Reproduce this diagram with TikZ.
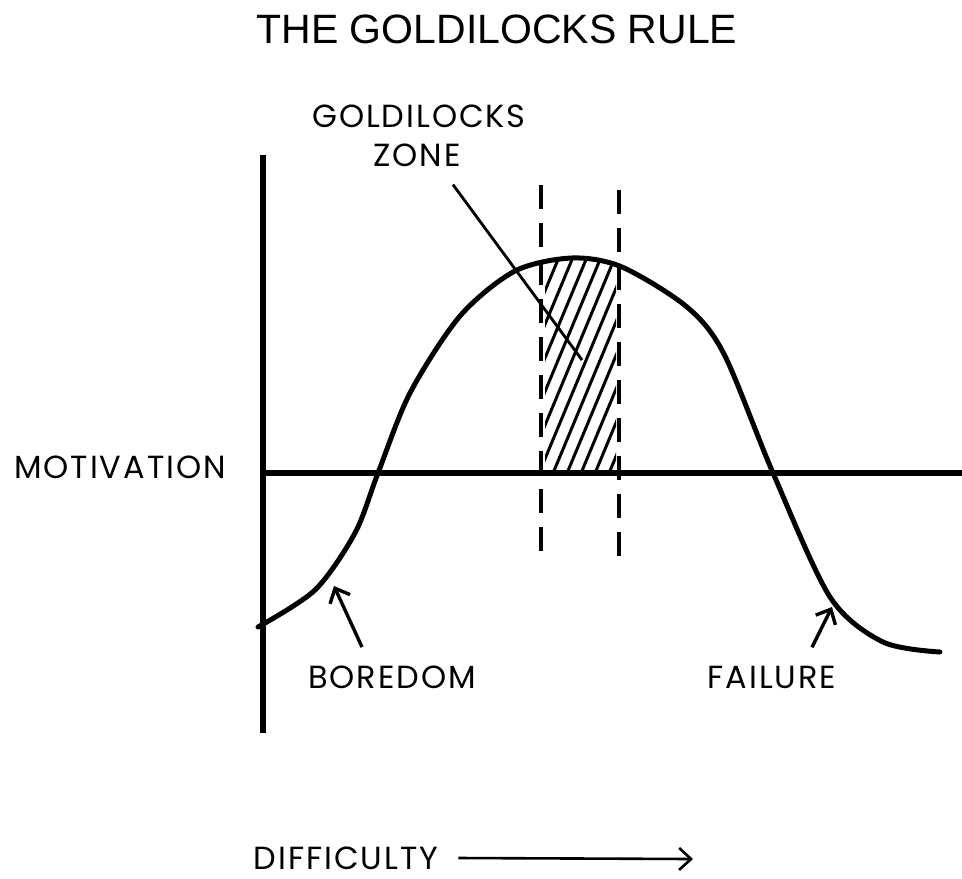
\documentclass[tikz,border=0pt]{standalone}
\usepackage{fontspec}
\setmainfont{Poppins}[LetterSpace=6]
\newfontfamily\headfont{Liberation Sans}
\usetikzlibrary{arrows.meta}

\newcommand{\goldcurve}{plot[smooth] coordinates {(258,627) (315,590) (355,533) (378,473) (410,393) (460,316) (515,271) (572,258) (622,267) (687,307) (724,354) (773,473) (830,597) (883,642) (940,652)}}

\begin{document}
\begin{tikzpicture}[x=0.5pt,y=-0.5pt,
        axis/.style={line width=2.7pt},
        curve/.style={line width=2.5pt, line cap=round},
        zone/.style={line width=1.9pt, dash pattern=on 12pt off 7pt},
        hatch/.style={line width=1.5pt},
        axislabel/.style={font=\fontsize{16}{19}\selectfont, inner sep=0pt, anchor=base},
        pointer/.style={line width=1.7pt, -{Straight Barb[length=6pt,width=11pt]}}]
    \useasboundingbox (0,0) rectangle (962,878);

    \node[font=\headfont\fontsize{20.5}{24}\selectfont, inner sep=0pt, anchor=base] (title) at (497,43) {THE GOLDILOCKS RULE};

    % axes
    \coordinate (ytop) at (263,155);
    \coordinate (ybot) at (263,733);
    \coordinate (origin) at (263,473);
    \coordinate (xend) at (962,473);
    \draw[axis] (ytop) -- (ybot);
    \draw[axis] (origin) -- (xend);

    % zone
    \begin{scope}
        \clip (545,473) rectangle (616,240);
        \clip \goldcurve -- (940,720) -- (258,720) -- cycle;
        \foreach \x in {420,434,...,640}
            \draw[hatch] (\x,490) -- ++(100,-240);
    \end{scope}
    \draw[zone] (541,185) -- (541,562);
    \draw[zone] (619,190) -- (619,558);

    \draw[curve] \goldcurve;

    \node[axislabel] (motiv) at (120,478) {MOTIVATION};
    \node[axislabel] (goldi) at (419,127) {GOLDILOCKS};
    \node[axislabel] (zonelbl) at (417,166) {ZONE};
    \node[axislabel] (boredom) at (392,688) {BOREDOM};
    \node[axislabel] (failure) at (772,688) {FAILURE};
    \node[axislabel, text depth=0pt] (diffic) at (346,869) {DIFFICULTY};

    \coordinate (zonetip) at (582,360);
    \coordinate (boretip) at (334,586);
    \coordinate (failtip) at (832,607);
    \coordinate (diffend) at (693,859);

    \draw[line width=1.4pt] ([xshift=-4pt,yshift=-9pt]zonelbl.south east) -- (zonetip);
    \draw[pointer] ([xshift=-15pt,yshift=9pt]boredom.north) -- (boretip);
    \draw[pointer] ([xshift=20pt,yshift=9pt]failure.north) -- (failtip);
    \draw[pointer, line width=1.3pt] ([xshift=10pt,yshift=5.5pt]diffic.base east) -- (diffend);
\end{tikzpicture}
\end{document}
